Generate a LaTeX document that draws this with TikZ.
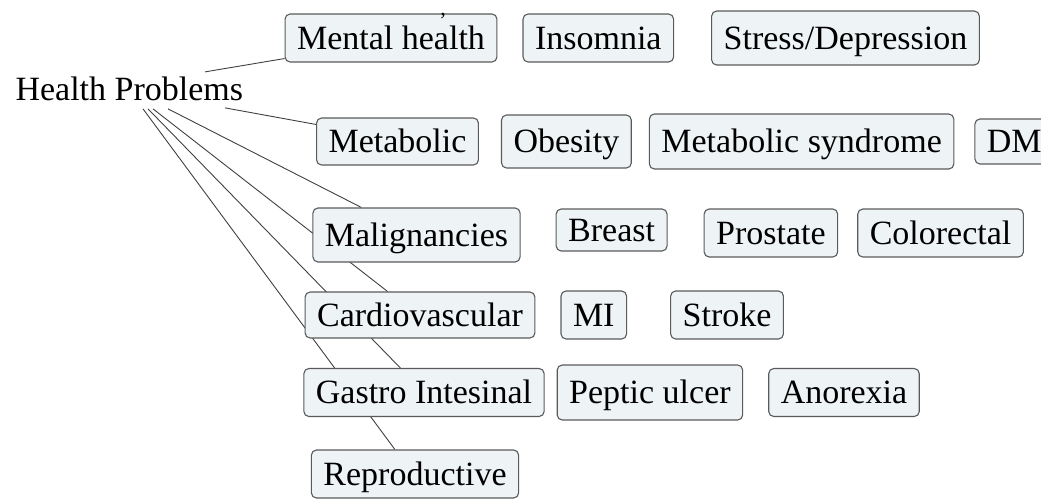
\documentclass[tikz,border=0pt]{standalone}
\usepackage{fontspec}
\setmainfont{Liberation Serif}
\usepackage{xcolor}
\usetikzlibrary{positioning, calc, backgrounds}
\definecolor{boxfill}{HTML}{EEF3F5}
\definecolor{boxline}{HTML}{5A5A5A}

\begin{document}
\begin{tikzpicture}[
    x=1pt, y=-1pt,
    node distance=25pt,
    item/.style={draw=boxline, rounded corners=5pt, fill=boxfill, line width=1.1pt,
        inner xsep=12pt, minimum height=48pt, text height=26pt, text depth=4pt,
        font=\fontsize{34}{36}\selectfont},
    link/.style={draw=black!75, line width=0.9pt}
]
\useasboundingbox (0,0) rectangle (1041,499);
\node[anchor=base west, font=\fontsize{34}{36}\selectfont] (health) at (12,100) {Health Problems};
\node[item] (mental) at (391,38) {Mental health};
\node[item, right=25pt of mental] (insomnia) {Insomnia};
\node[item, right=37pt of insomnia, minimum height=54pt] (stress) {Stress/Depression};
\node[font=\fontsize{22}{22}\selectfont, inner sep=0pt] (mark) at (443,16) {,};
\node[item, minimum height=47pt] (metabolic) at (397.5,141.5) {Metabolic};
\node[item, right=22pt of metabolic, minimum height=53pt] (obesity) {Obesity};
\node[item, right=17pt of obesity, minimum height=55pt] (metsyn) {Metabolic syndrome};
\node[item, right=20pt of metsyn, minimum height=45pt] (dm) {DM};
\node[item, minimum height=54pt] (malig) at (416.5,235) {Malignancies};
\node[item, right=35pt of malig, minimum height=42pt, yshift=5pt] (breast) {Breast};
\node[item, right=36pt of breast, yshift=-3pt] (prostate) {Prostate};
\node[item, right=19pt of prostate] (colorectal) {Colorectal};
\node[item, minimum height=46pt] (cardio) at (420,315) {Cardiovascular};
\node[item, right=25pt of cardio] (mi) {MI};
\node[item, right=43pt of mi] (stroke) {Stroke};
\node[item] (gastro) at (424,392.5) {Gastro Intesinal};
\node[item, right=12pt of gastro, minimum height=55pt] (peptic) {Peptic ulcer};
\node[item, right=25pt of peptic] (anorexia) {Anorexia};
\node[item] (repro) at (415,474) {Reproductive};
\begin{scope}[on background layer]
\draw[link] ($(health.north west)+(193,-1)$) -- ($(mental.south west)+(0,-4)$);
\draw[link] ($(health.south west)+(213,4)$) -- ($(metabolic.north west)+(0,7)$);
\draw[link] ($(health.south west)+(156,5)$) -- ($(malig.north west)+(49,0)$);
\draw[link] ($(health.south west)+(141,5)$) -- ($(cardio.north west)+(83,0)$);
\draw[link] ($(health.south west)+(136,5)$) -- ($(gastro.north west)+(97,0)$);
\draw[link] ($(health.south west)+(131,5)$) -- ($(repro.north west)+(84,0)$);
\end{scope}
\end{tikzpicture}
\end{document}
